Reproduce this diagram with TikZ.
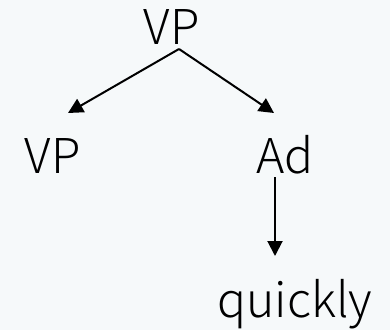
\documentclass[tikz,border=0pt]{standalone}
\usepackage{fontspec}
\setmainfont{Noto Sans CJK JP}[UprightFont={* Light}]
\usetikzlibrary{arrows.meta}
\definecolor{bgc}{HTML}{F6F9FA}
\begin{document}
\begin{tikzpicture}[x=1pt,y=1pt,
  lbl/.style={inner sep=0pt, anchor=base, font=\fontsize{48}{56}\selectfont},
  arr/.style={line width=2pt, -{Triangle[length=15pt,width=15pt]}}]
\fill[bgc] (0,0) rectangle (390,330);
\useasboundingbox (0,0) rectangle (390,330);
\node[lbl] (top) at (171.5,285) {VP};
\node[lbl] (vp) at (52.5,157) {VP};
\node[lbl] (ad) at (285,157) {Ad};
\node[lbl] (q) at (295,13) {quickly};
\draw[arr] ([xshift=7.5pt,yshift=-4pt]top.base) -- ([xshift=15.5pt,yshift=60pt]vp.base);
\draw[arr] ([xshift=7.5pt,yshift=-4pt]top.base) -- ([xshift=-11pt,yshift=60pt]ad.base);
\draw[arr] ([xshift=-10pt,yshift=-4pt]ad.base) -- ([xshift=-20pt,yshift=61pt]q.base);
\end{tikzpicture}
\end{document}
